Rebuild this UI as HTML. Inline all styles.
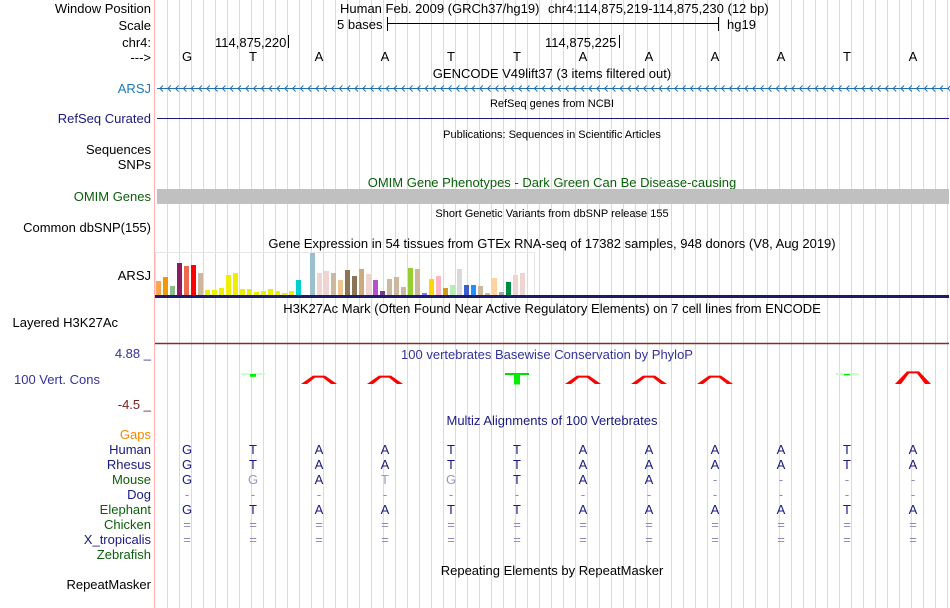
<!DOCTYPE html>
<html><head><meta charset="utf-8"><style>
body{margin:0;background:#fff;}
svg{display:block;font-family:"Liberation Sans",sans-serif;font-size:13px;}
</style></head><body>
<svg id="c" width="950" height="608">
<g id="grid"></g>
<line x1="154.5" y1="0" x2="154.5" y2="608" stroke="#ffb0b0" stroke-width="1"/>
<g text-anchor="end">
<text x="151" y="13" fill="#000">Window Position</text>
<text x="151" y="30" fill="#000">Scale</text>
<text x="151" y="47" fill="#000">chr4:</text>
<text x="151" y="62" fill="#000">---&gt;</text>
<text x="151" y="93" fill="#1f77b4">ARSJ</text>
<text x="151" y="123" fill="#1a1a80">RefSeq Curated</text>
<text x="151" y="154" fill="#000">Sequences</text>
<text x="151" y="169" fill="#000">SNPs</text>
<text x="151" y="201" fill="#0a5f0a">OMIM Genes</text>
<text x="151" y="232" fill="#000">Common dbSNP(155)</text>
<text x="151" y="280" fill="#000">ARSJ</text>
<text x="118" y="327" fill="#000">Layered H3K27Ac</text>
<text x="151" y="358" fill="#333399">4.88 _</text>
<text x="100" y="384" fill="#333399">100 Vert. Cons</text>
<text x="151" y="409" fill="#7a2020">-4.5 _</text>
<text x="151" y="439" fill="#f08a00">Gaps</text>
<text x="151" y="454" fill="#1a1a80">Human</text>
<text x="151" y="469" fill="#1a1a80">Rhesus</text>
<text x="151" y="484" fill="#0a5f0a">Mouse</text>
<text x="151" y="499" fill="#1a1a80">Dog</text>
<text x="151" y="514" fill="#0a5f0a">Elephant</text>
<text x="151" y="529" fill="#0a5f0a">Chicken</text>
<text x="151" y="544" fill="#1a1a80">X_tropicalis</text>
<text x="151" y="559" fill="#0a5f0a">Zebrafish</text>
<text x="151" y="589" fill="#000">RepeatMasker</text>
</g>
<text x="340" y="13" fill="#000">Human Feb. 2009 (GRCh37/hg19)</text>
<text x="548" y="13" fill="#000">chr4:114,875,219-114,875,230 (12 bp)</text>
<text x="337" y="29" fill="#000">5 bases</text>
<line x1="387" y1="23.5" x2="718" y2="23.5" stroke="#000"/>
<line x1="387.5" y1="17" x2="387.5" y2="31" stroke="#000"/>
<line x1="718.5" y1="17" x2="718.5" y2="31" stroke="#000"/>
<text x="727" y="29" fill="#000">hg19</text>
<text x="215" y="47" fill="#000">114,875,220</text>
<line x1="288.5" y1="35" x2="288.5" y2="48" stroke="#000"/>
<text x="545" y="47" fill="#000">114,875,225</text>
<line x1="619.5" y1="35" x2="619.5" y2="48" stroke="#000"/>
<g id="ref" text-anchor="middle"></g>
<g text-anchor="middle">
<text x="552" y="78" fill="#000">GENCODE V49lift37 (3 items filtered out)</text>
<text x="552" y="107" font-size="11" fill="#000">RefSeq genes from NCBI</text>
<text x="552" y="138" font-size="11" fill="#000">Publications: Sequences in Scientific Articles</text>
<text x="552" y="187" fill="#0a5f0a">OMIM Gene Phenotypes - Dark Green Can Be Disease-causing</text>
<text x="552" y="217" font-size="11" fill="#000">Short Genetic Variants from dbSNP release 155</text>
<text x="552" y="248" fill="#000">Gene Expression in 54 tissues from GTEx RNA-seq of 17382 samples, 948 donors (V8, Aug 2019)</text>
<text x="552" y="313" fill="#000">H3K27Ac Mark (Often Found Near Active Regulatory Elements) on 7 cell lines from ENCODE</text>
<text x="547" y="359" fill="#333399">100 vertebrates Basewise Conservation by PhyloP</text>
<text x="552" y="425" fill="#1a1a80">Multiz Alignments of 100 Vertebrates</text>
<text x="552" y="575" fill="#000">Repeating Elements by RepeatMasker</text>
</g>
<line x1="157" y1="88.5" x2="949" y2="88.5" stroke="#1f6fb4"/>
<g id="arrows" stroke="#1f6fb4" fill="none"></g>
<line x1="157" y1="118.5" x2="949" y2="118.5" stroke="#1a1a80"/>
<rect x="157" y="189" width="792" height="15" fill="#c0c0c0"/>
<g id="gtex"></g>
<rect x="155" y="295" width="794" height="3" fill="#1a1a6e"/>
<line x1="155" y1="343.5" x2="949" y2="343.5" stroke="#8b2a2a" stroke-width="1.5"/>
<g id="cons"></g>
<g id="maf" text-anchor="middle"></g>
</svg>
<script>
const bases = ["G","T","A","A","T","T","A","A","A","A","T","A"];
const rhesus = ["G","T","A","A","T","T","A","A","A","A","T","A"];
const mouse = ["G","G","A","T","G","T","A","A","-","-","-","-"];
const dog = ["-","-","-","-","-","-","-","-","-","-","-","-"];
const elephant = ["G","T","A","A","T","T","A","A","A","A","T","A"];
const chicken = ["=","=","=","=","=","=","=","=","=","=","=","="];
const xtrop = ["=","=","=","=","=","=","=","=","=","=","=","="];
const gtexValues = [14,18,9,32,29,30,22,5,5,7,20,22,6,6,3,4,6,4,2,4,15,0,43,22,24,22,15,25,19,26,21,15,4,16,18,8,27,26,2,16,19,7,10,26,10,10,9,2,17,3,13,20,22,0];
const gtexColors = ["#FFA54F","#EE9A00","#8FBC8F","#8B1C62","#EE6A50","#FF0000","#CDB79E","#EEEE00","#EEEE00","#EEEE00","#EEEE00","#EEEE00","#EEEE00","#EEEE00","#EEEE00","#EEEE00","#EEEE00","#EEEE00","#EEEE00","#EEEE00","#00CED1","#CCCCCC","#9AC0CD","#EED5D2","#EED5D2","#CDB79E","#EEC591","#8B7355","#8B7355","#CDAA7D","#EED5D2","#B452CD","#7A378B","#CDB79E","#CDB79E","#CDB79E","#9ACD32","#CDB79E","#7777FF","#FFD700","#FFB6C1","#CD9B1D","#B4EEB4","#D9D9D9","#3A5FCD","#1E90FF","#CDB79E","#CDB79E","#FFD39B","#A6A6A6","#008B45","#EED5D2","#EED5D2","#EED5D2"];
const phyloP = [0,-0.4,0.6,0.6,0,-1.5,0.6,0.6,0.6,0,-0.2,0.9];
const NS="http://www.w3.org/2000/svg";
function mk(tag,attrs,parent){const e=document.createElementNS(NS,tag);for(const k in attrs)e.setAttribute(k,attrs[k]);parent.appendChild(e);return e;}
const colX = i => 187 + i*66;
const grid=document.getElementById('grid');
for(let x=167;x<950;x+=12){
 const l=mk('line',{x1:x+0.5,y1:0,x2:x+0.5,y2:608,stroke:'#d8d8f4'},grid);
 
 
}
const arr=document.getElementById('arrows');
for(let x=160;x<949;x+=7.8){mk('polyline',{points:`${x+3},85.5 ${x},88.5 ${x+3},91.5`},arr);}
const ref=document.getElementById('ref');
bases.forEach((b,i)=>{const t=mk('text',{x:colX(i),y:61,fill:'#000'},ref);t.textContent=b;
 
 });
const gtex=document.getElementById('gtex');
const ys = v => 295 - v;
gtexValues.forEach((v,i)=>{if(v<=0)return;const r=mk('rect',{x:156+i*7,y:ys(v),width:5,height:v,fill:gtexColors[i]},gtex);
 
 });
mk('rect',{x:155.5,y:252.5,width:379,height:43,fill:'none',stroke:'#e6e6e6'},gtex);
const cons=document.getElementById('cons');
const zeroY=374, scaleY=7;
phyloP.forEach((v,i)=>{const cx=colX(i);
 if(v>0){const h=v*scaleY*2;
  const p=mk('polygon',{points:`${cx-18},${zeroY+10} ${cx-6},${zeroY+10-h} ${cx+6},${zeroY+10-h} ${cx+18},${zeroY+10} ${cx+12},${zeroY+10} ${cx+4},${zeroY+6-h+6} ${cx-4},${zeroY+6-h+6} ${cx-12},${zeroY+10}`,fill:'#ff0000'},cons);
  
  }
 else if(v<0){const h=-v*scaleY;
  mk('rect',{x:cx-12,y:zeroY-1,width:24,height:2,fill:v<-1?'#00dd00':'#ccffcc'},cons);
  const r=mk('rect',{x:cx-3,y:zeroY,width:6,height:h,fill:'#00ee00'},cons);
  
  }
});
const maf=document.getElementById('maf');
const rows=[[bases,454,'#1a1a80'],[rhesus,469,'#1a1a80'],[mouse,484,'#1a1a80'],[dog,499,'#1a1a80'],[elephant,514,'#1a1a80'],[chicken,529,'#7a7ab8'],[xtrop,544,'#7a7ab8']];
rows.forEach(([arrS,y,col])=>{arrS.forEach((b,i)=>{
 let c=col; if(b==='-'||b==='=')c='#8888bb'; else if(b!==bases[i])c='#9999c0';
 const t=mk('text',{x:colX(i),y:y,fill:c},maf);t.textContent=b;
 
 });});
</script>
</body></html>
